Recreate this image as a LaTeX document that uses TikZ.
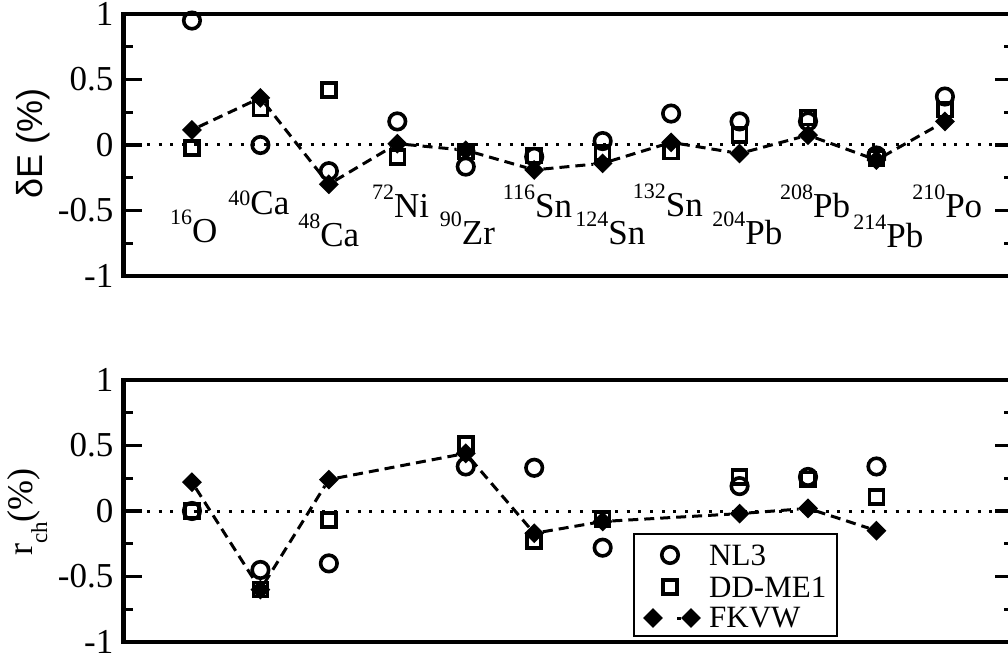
\documentclass[tikz,border=0pt]{standalone}
\usepackage{fontspec}
\setmainfont{Liberation Serif}
\newfontfamily\labelsans{Liberation Sans}
\usetikzlibrary{shapes.geometric}

% nucleus label: mass number raised, then element
\newcommand{\nuc}[3][18pt]{\raisebox{#1}{\fontsize{22}{22}\selectfont #2}#3}

\begin{document}
\begin{tikzpicture}[x=1pt,y=-1pt,
    every node/.style={inner sep=0pt},
    frame/.style={line width=4.2pt},
    tick/.style={line width=3.2pt},
    nlnode/.style={draw,circle,line width=3.6pt,minimum size=16.5pt},
    ddnode/.style={draw,rectangle,line width=3.6pt,minimum size=14pt},
    fknode/.style={diamond,fill=black,minimum width=20pt,minimum height=20pt},
    fkline/.style={line width=3pt,dash pattern=on 10pt off 6pt},
    zeroline/.style={line width=3pt,dash pattern=on 3pt off 8.7pt},
    ticklabel/.style={anchor=east,font=\fontsize{35}{40}\selectfont},
    nuclabel/.style={anchor=base west,font=\fontsize{35}{40}\selectfont},
    legtext/.style={anchor=base west,font=\fontsize{31}{36}\selectfont}
    ]
    \useasboundingbox (0,0) rectangle (1008,660);
    \clip (0,0) rectangle (1008,660);

    % binding energies
    \begin{scope}[shift={(123.5,145)},x=68.45pt,y=131pt]
    \draw[zeroline] (0,0) -- (13,0);
    \foreach \t in {-0.75,-0.25,0.25,0.75} {
        \draw[tick] (0,\t) -- ++(9pt,0);
        \draw[tick] (13,\t) -- ++(-9pt,0);
    }
    \foreach \t in {-0.5,0,0.5} {
        \draw[tick] (0,\t) -- ++(18pt,0);
        \draw[tick] (13,\t) -- ++(-18pt,0);
    }
    \draw[frame] (0,-1) rectangle (13,1);
    \foreach \v [count=\k] in {1,0.5,0,-0.5,-1}
    \node[ticklabel] (etick\k) at ([xshift=-10pt]0,\v) {\v};

    % NL3
    \foreach \i/\v in {1/0.95,2/0,3/-0.2,4/0.18,5/-0.165,6/-0.09,7/0.03,8/0.24,9/0.18,10/0.18,11/-0.08,12/0.37}
    \node[nlnode] (nlE\i) at (\i,\v) {};
    % DD-ME1
    \foreach \i/\v in {1/-0.025,2/0.28,3/0.42,4/-0.09,5/-0.05,6/-0.08,7/-0.06,8/-0.05,9/0.075,10/0.21,11/-0.1,12/0.27}
    \node[ddnode] (ddE\i) at (\i,\v) {};
    % FKVW
    \foreach \i/\v in {1/0.115,2/0.36,3/-0.3,4/0.01,5/-0.04,6/-0.19,7/-0.14,8/0.02,9/-0.065,10/0.075,11/-0.115,12/0.18}
    \node[fknode] (fkE\i) at (\i,\v) {};
    \draw[fkline] (fkE1) -- (fkE2) -- (fkE3) -- (fkE4) -- (fkE5) -- (fkE6)
        -- (fkE7) -- (fkE8) -- (fkE9) -- (fkE10) -- (fkE11) -- (fkE12);

    % the nuclei
    \node[nuclabel] (n1) at (0.68,-0.748) {\nuc{16}{O}};
    \node[nuclabel] (n2) at (1.53,-0.534) {\nuc[9pt]{40}{Ca}};
    \node[nuclabel] (n3) at (2.55,-0.771) {\nuc{48}{Ca}};
    \node[nuclabel] (n4) at (3.63,-0.55) {\nuc{72}{Ni}};
    \node[nuclabel] (n5) at (4.62,-0.763) {\nuc{90}{Zr}};
    \node[nuclabel] (n6) at (5.54,-0.55) {\nuc{116}{Sn}};
    \node[nuclabel] (n7) at (6.6,-0.763) {\nuc{124}{Sn}};
    \node[nuclabel] (n8) at (7.44,-0.542) {\nuc{132}{Sn}};
    \node[nuclabel] (n9) at (8.6,-0.763) {\nuc{204}{Pb}};
    \node[nuclabel] (n10) at (9.59,-0.557) {\nuc{208}{Pb}};
    \node[nuclabel] (n11) at (10.66,-0.779) {\nuc{214}{Pb}};
    \node[nuclabel] (n12) at (11.52,-0.557) {\nuc{210}{Po}};
    \end{scope}

    % charge radii
    \begin{scope}[shift={(123.5,511)},x=68.45pt,y=131pt]
    \draw[zeroline] (0,0) -- (13,0);
    \foreach \t in {-0.75,-0.25,0.25,0.75} {
        \draw[tick] (0,\t) -- ++(9pt,0);
        \draw[tick] (13,\t) -- ++(-9pt,0);
    }
    \foreach \t in {-0.5,0,0.5} {
        \draw[tick] (0,\t) -- ++(18pt,0);
        \draw[tick] (13,\t) -- ++(-18pt,0);
    }
    \draw[frame] (0,-1) rectangle (13,1);
    \foreach \v [count=\k] in {1,0.5,0,-0.5,-1}
    \node[ticklabel] (rtick\k) at ([xshift=-10pt]0,\v) {\v};

    % NL3
    \foreach \i/\v in {1/0,2/-0.45,3/-0.4,5/0.34,6/0.33,7/-0.28,9/0.19,10/0.26,11/0.34}
    \node[nlnode] (nlR\i) at (\i,\v) {};
    % DD-ME1
    \foreach \i/\v in {1/0,2/-0.6,3/-0.07,5/0.51,6/-0.23,7/-0.06,9/0.26,10/0.24,11/0.105}
    \node[ddnode] (ddR\i) at (\i,\v) {};
    % FKVW
    \foreach \i/\v in {1/0.22,2/-0.6,3/0.24,5/0.44,6/-0.17,7/-0.08,9/-0.02,10/0.02,11/-0.15}
    \node[fknode] (fkR\i) at (\i,\v) {};
    \draw[fkline] (fkR1) -- (fkR2) -- (fkR3) -- (fkR5) -- (fkR6) -- (fkR7)
        -- (fkR9) -- (fkR10) -- (fkR11);
    \end{scope}

    % axis titles
    \node[rotate=90,anchor=base,font=\labelsans\fontsize{36}{40}\selectfont] (etitle) at (42,143.5) {δE (\%)};
    \node[rotate=90,anchor=base,font=\fontsize{36}{40}\selectfont] (rtitle) at (32,512) {r\raisebox{-15pt}{\fontsize{23}{23}\selectfont ch}(\%)};

    % legend
    \draw[line width=1.8pt,fill=white] (634,534) rectangle (837,636);
    \node[nlnode] (lgnl) at (670,555) {};
    \node[ddnode] (lgdd) at (670,587) {};
    \node[fknode] (lgfkA) at (653,618) {};
    \node[fknode] (lgfkB) at (691,618) {};
    \draw[fkline,dash pattern=on 6pt off 14pt,dash phase=6pt] (lgfkA) -- (lgfkB);
    \node[legtext] (lgtnl) at (709,565) {NL3};
    \node[legtext] (lgtdd) at (709,597) {DD-ME1};
    \node[legtext] (lgtfk) at (709,627) {FKVW};
\end{tikzpicture}
\end{document}
